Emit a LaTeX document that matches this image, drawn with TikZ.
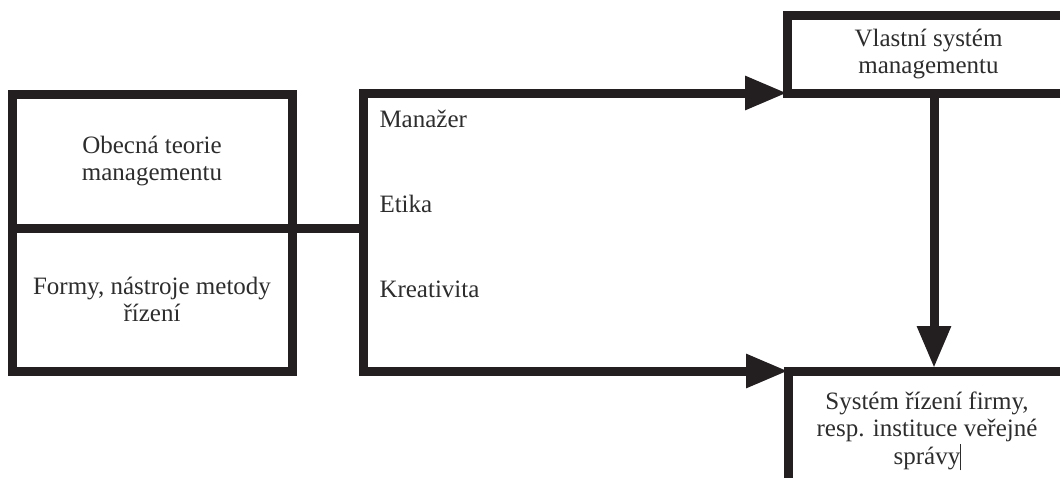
\documentclass[tikz,border=0pt]{standalone}
\usepackage{fontspec}
\setmainfont{Liberation Serif}
\usetikzlibrary{arrows.meta}
\definecolor{ink}{RGB}{35,31,32}
\definecolor{txt}{RGB}{45,45,45}
\begin{document}
\begin{tikzpicture}[x=1pt,y=-1pt,
  line width=9pt, draw=ink,
  every node/.style={font=\fontsize{25}{27.5}\selectfont, text=txt},
  box/.style={draw, rectangle, inner sep=0pt, outer sep=0pt, align=center},
  label/.style={anchor=base west, inner sep=0pt},
  flow/.style={-{Triangle[length=42pt,width=32pt]}, line cap=butt}]
  \useasboundingbox (0,0) rectangle (1060,477);
  \clip (0,0) rectangle (1060,477);

  % left column: two stacked boxes
  \node[box, minimum width=280pt, minimum height=134pt] (theory) at (152,161)
    {Obecná teorie\\managementu};
  \node[box, minimum width=280pt, minimum height=143pt] (tools) at (152,299.5)
    {Formy, nástroje metody\\řízení};

  % middle bracket and its labels
  \coordinate (btop) at (363,93);
  \coordinate (bmid) at (363,228);
  \coordinate (bbot) at (363,371);
  \node[label] (manager) at (375,127) {Manažer};
  \node[label] (ethics)  at (375,212) {Etika};
  \node[label] (creat)   at (375,297) {Kreativita};

  % upper right box (continues beyond the right edge)
  \node[box, minimum width=283pt, minimum height=78pt] (own) at (928.5,54)
    {Vlastní systém\\managementu};

  % lower right box (open to the right and bottom)
  \coordinate (syscorner) at (788,371);
  \node[align=center, inner sep=0pt] (firm) at (927,431)
    {Systém řízení firmy,\\resp. instituce veřejné\\správy\rlap{\rule[-0.25em]{0.7pt}{1.05em}}};
  \draw[line cap=butt] (788,490) -- (syscorner) -- (1075,371);

  % connectors
  \draw (tools.north east) -- (bmid);
  \draw[line cap=rect] (btop) -- (bbot);
  \draw[flow] (btop) -- (own.south west);
  \draw[flow] (own.south west -| 934,0) -- (934,368);
  \draw[flow] (bbot) -- (syscorner);
\end{tikzpicture}
\end{document}
